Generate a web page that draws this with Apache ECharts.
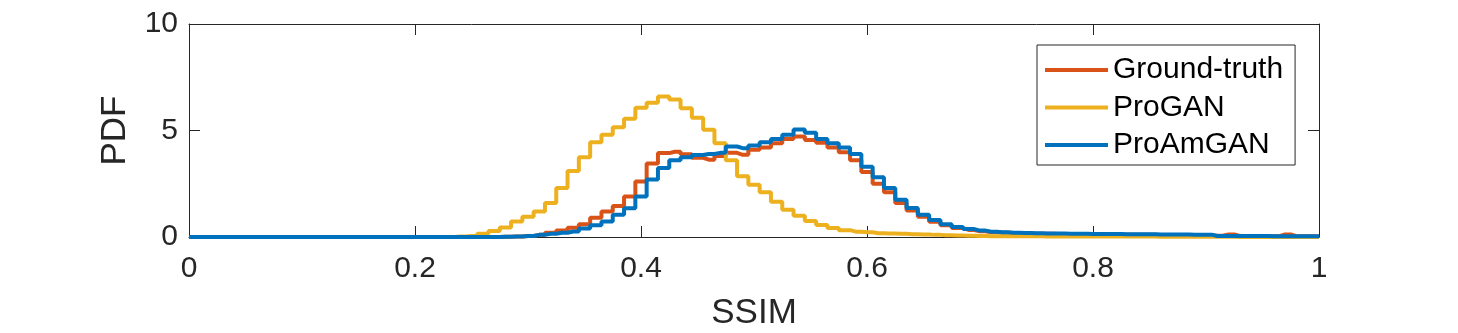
<!DOCTYPE html>
<html>
<head>
<meta charset="utf-8">
<script src="https://cdn.jsdelivr.net/npm/echarts@6/dist/echarts.min.js"></script>
<style>
  html, body { margin: 0; padding: 0; background: #fff; }
  #chart { width: 1458px; height: 333px; }
</style>
</head>
<body>
<div id="chart"></div>
<script>
// SSIM sample points (bin positions, step 0.01)
var ssim = [];
for (var i = 0; i <= 100; i++) ssim.push(+(i / 100).toFixed(2));

var groundTruth = [
  0, 0, 0, 0, 0, 0, 0, 0, 0, 0,
  0, 0, 0, 0, 0, 0, 0, 0, 0, 0,
  0, 0, 0, 0, 0, 0, 0, 0, 0.01, 0.02,
  0.05, 0.1, 0.2, 0.3, 0.43, 0.6, 0.9, 1.2, 1.45, 1.9,
  2.6, 3.45, 3.94, 4.0, 3.88, 3.72, 3.63, 3.8, 3.95, 3.86,
  4.1, 4.2, 4.4, 4.6, 4.72, 4.55, 4.42, 4.2, 3.98, 3.6,
  3.05, 2.5, 2.1, 1.6, 1.25, 0.95, 0.72, 0.55, 0.42, 0.33,
  0.27, 0.22, 0.2, 0.18, 0.16, 0.15, 0.15, 0.14, 0.14, 0.13,
  0.13, 0.12, 0.12, 0.11, 0.1, 0.1, 0.09, 0.09, 0.08, 0.08,
  0.07, 0.06, 0.12, 0.05, 0.04, 0.04, 0.04, 0.12, 0.04, 0.03, 0.02
];

var proGAN = [
  0, 0, 0, 0, 0, 0, 0, 0, 0, 0,
  0, 0, 0, 0, 0, 0, 0, 0, 0, 0,
  0, 0, 0, 0, 0.02, 0.05, 0.15, 0.28, 0.45, 0.73,
  0.95, 1.2, 1.6, 2.3, 3.1, 3.75, 4.45, 4.8, 5.15, 5.55,
  6.07, 6.3, 6.6, 6.45, 6.05, 5.6, 5.04, 4.4, 3.6, 2.85,
  2.45, 2.1, 1.65, 1.28, 1.0, 0.75, 0.56, 0.42, 0.32, 0.25,
  0.22, 0.18, 0.16, 0.15, 0.13, 0.12, 0.1, 0.08, 0.07, 0.06,
  0.05, 0.04, 0.04, 0.04, 0.03, 0.03, 0.02, 0.02, 0.02, 0.02,
  0.02, 0.02, 0.02, 0.02, 0.02, 0.02, 0.01, 0.01, 0.01, 0.01,
  0.01, 0.01, 0.01, 0, 0, 0, 0, 0, 0, 0, 0
];

var proAmGAN = [
  0, 0, 0, 0, 0, 0, 0, 0, 0, 0,
  0, 0, 0, 0, 0, 0, 0, 0, 0, 0,
  0, 0, 0, 0, 0, 0, 0, 0, 0.01, 0.02,
  0.05, 0.1, 0.15, 0.2, 0.26, 0.4, 0.55, 0.73, 1.05, 1.35,
  1.9, 2.7, 3.24, 3.6, 3.75, 3.85, 3.9, 3.95, 4.25, 4.17,
  4.3, 4.45, 4.6, 4.8, 5.05, 4.9, 4.6, 4.4, 4.2, 3.9,
  3.3, 2.8, 2.3, 1.75, 1.36, 1.05, 0.8, 0.6, 0.47, 0.37,
  0.3, 0.25, 0.22, 0.2, 0.19, 0.18, 0.17, 0.16, 0.15, 0.15,
  0.14, 0.14, 0.14, 0.13, 0.13, 0.13, 0.12, 0.12, 0.12, 0.11,
  0.11, 0.05, 0.05, 0.05, 0.05, 0.05, 0.04, 0.04, 0.04, 0.04, 0.04
];

var xTicks = [0, 0.2, 0.4, 0.6, 0.8, 1];
var yTicks = [0, 5, 10];

var font = "'Liberation Sans', Arial, Helvetica, sans-serif";
var ink = '#262626';

function pairs(ys) {
  return ssim.map(function (x, i) { return [x, ys[i]]; });
}

function line(name, ys, color) {
  return {
    name: name,
    type: 'line',
    step: 'middle',
    symbol: 'none',
    data: pairs(ys),
    lineStyle: { color: color, width: 4 },
    itemStyle: { color: color }
  };
}

var chart = echarts.init(document.getElementById('chart'), null, { renderer: 'canvas' });

var boxAxis = {
  axisLine: { show: true, onZero: false, lineStyle: { color: ink, width: 1 } },
  axisTick: { show: true, inside: true, length: 11, lineStyle: { color: ink } },
  splitLine: { show: false }
};

var option = {
  animation: false,
  backgroundColor: '#fff',
  grid: { left: 189, right: 139, top: 24, bottom: 96, outerBoundsMode: 'none', containLabel: false },
  legend: {
    orient: 'vertical',
    left: 1037,
    top: 45,
    padding: [10, 12, 5, 8],
    icon: 'rect',
    itemWidth: 63,
    itemHeight: 4,
    itemGap: 7.5,
    backgroundColor: '#fff',
    borderColor: ink,
    borderWidth: 1,
    textStyle: { fontFamily: font, fontSize: 30, lineHeight: 30, color: '#000' },
    data: ['Ground-truth', 'ProGAN', 'ProAmGAN']
  },
  xAxis: [
    Object.assign({}, boxAxis, {
      type: 'value', min: 0, max: 1, interval: 0.2, position: 'bottom',
      name: 'SSIM', nameLocation: 'middle', nameGap: 59,
      nameTextStyle: { fontFamily: font, fontSize: 35, color: ink },
      axisTick: { show: true, inside: true, length: 11, lineStyle: { color: ink }, customValues: xTicks },
      axisLabel: { customValues: xTicks, margin: 17, fontFamily: font, fontSize: 30, color: ink }
    }),
    Object.assign({}, boxAxis, {
      type: 'value', min: 0, max: 1, interval: 0.2, position: 'top',
      axisLabel: { show: false }
    })
  ],
  yAxis: [
    Object.assign({}, boxAxis, {
      type: 'value', min: 0, max: 10, interval: 5, position: 'left',
      name: 'PDF', nameLocation: 'middle', nameGap: 56,
      nameTextStyle: { fontFamily: font, fontSize: 35, color: ink },
      axisTick: { show: true, inside: true, length: 11, lineStyle: { color: ink }, customValues: yTicks },
      axisLabel: { customValues: yTicks, margin: 11, fontFamily: font, fontSize: 30, color: ink }
    }),
    Object.assign({}, boxAxis, {
      type: 'value', min: 0, max: 10, interval: 5, position: 'right',
      axisLabel: { show: false }
    })
  ],
  series: [
    line('Ground-truth', groundTruth, '#D95319'),
    line('ProGAN', proGAN, '#EDB120'),
    line('ProAmGAN', proAmGAN, '#0072BD')
  ]
};

chart.setOption(option);
window.addEventListener('resize', function () {
  chart.resize();
});
</script>
</body>
</html>
